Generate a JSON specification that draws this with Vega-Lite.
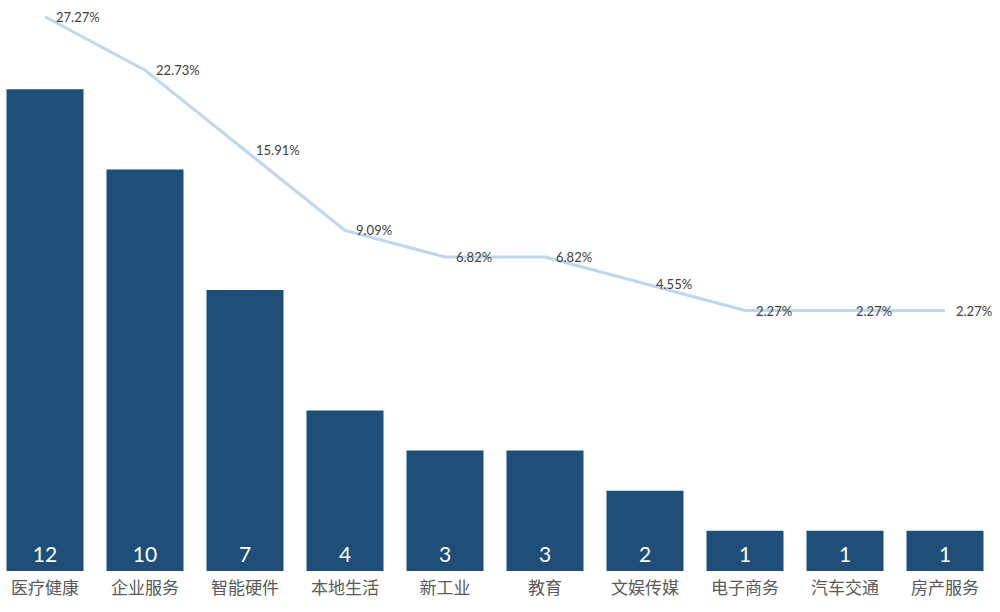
{
  "$schema": "https://vega.github.io/schema/vega-lite/v6.json",
  "width": 1000,
  "height": 571,
  "autosize": {"type": "none"},
  "padding": {"left": 0, "top": 0, "right": 0, "bottom": 41},
  "background": "white",
  "config": {"view": {"stroke": null}},
  "data": {
    "values": [
      {"category": "医疗健康", "count": 12, "pct": 0.2727},
      {"category": "企业服务", "count": 10, "pct": 0.2273},
      {"category": "智能硬件", "count": 7, "pct": 0.1591},
      {"category": "本地生活", "count": 4, "pct": 0.0909},
      {"category": "新工业", "count": 3, "pct": 0.0682},
      {"category": "教育", "count": 3, "pct": 0.0682},
      {"category": "文娱传媒", "count": 2, "pct": 0.0455},
      {"category": "电子商务", "count": 1, "pct": 0.0227},
      {"category": "汽车交通", "count": 1, "pct": 0.0227},
      {"category": "房产服务", "count": 1, "pct": 0.0227}
    ]
  },
  "encoding": {
    "x": {
      "field": "category",
      "type": "nominal",
      "sort": null,
      "scale": {"range": [-5, 995], "paddingInner": 0.23, "paddingOuter": 0.115},
      "axis": {
        "title": null,
        "domain": false,
        "ticks": false,
        "labelAngle": 0,
        "labelFont": "Noto Sans CJK SC",
        "labelFontSize": 17,
        "labelColor": "#595959",
        "labelPadding": 9
      }
    }
  },
  "layer": [
    {
      "mark": {"type": "bar", "color": "#1F4E79"},
      "encoding": {
        "y": {"field": "count", "type": "quantitative", "scale": {"domain": [0, 14.22], "nice": false}, "axis": null}
      }
    },
    {
      "mark": {"type": "text", "color": "white", "font": "Lato", "fontSize": 21, "baseline": "alphabetic", "dy": -9},
      "encoding": {
        "y": {"datum": 0, "type": "quantitative", "scale": {"domain": [0, 14.22], "nice": false}, "axis": null},
        "text": {"field": "count", "type": "quantitative"}
      }
    },
    {
      "mark": {"type": "line", "color": "#BDD7EE", "strokeWidth": 3},
      "encoding": {
        "y": {"field": "pct", "type": "quantitative", "scale": {"domain": [-0.199, 0.287], "nice": false, "zero": false}, "axis": null}
      }
    },
    {
      "mark": {"type": "text", "color": "#404040", "font": "Lato", "fontSize": 13, "align": "left", "baseline": "middle", "dx": 11, "dy": 1},
      "encoding": {
        "y": {"field": "pct", "type": "quantitative", "scale": {"domain": [-0.199, 0.287], "nice": false, "zero": false}, "axis": null},
        "text": {"field": "pct", "type": "quantitative", "format": ".2%"}
      }
    }
  ],
  "resolve": {"scale": {"y": "independent"}}
}
